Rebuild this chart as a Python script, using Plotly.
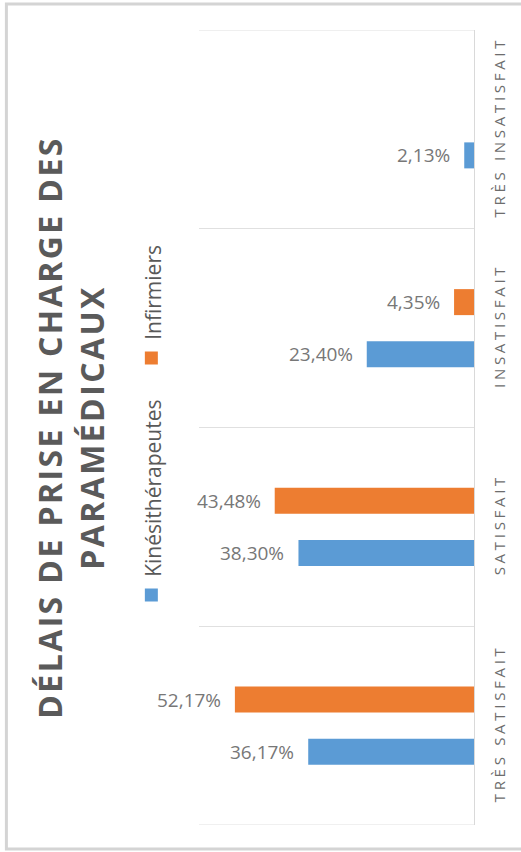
import plotly.graph_objects as go

# Satisfaction categories, bottom to top on the category axis
categories = ["TRÈS SATISFAIT", "SATISFAIT", "INSATISFAIT", "TRÈS INSATISFAIT"]
series_names = ["Kinésithérapeutes", "Infirmiers"]
kine_values = [36.17, 38.30, 23.40, 2.13]
infirmiers_values = [52.17, 43.48, 4.35, None]
series_values = [kine_values, infirmiers_values]
series_colors = ["#5B9BD5", "#ED7D31"]
title_text = "DÉLAIS DE PRISE EN CHARGE DES<br>PARAMÉDICAUX"

# Page and plot-area geometry (pixels)
W, H = 521, 852
PL, PR, PT, PB = 199, 476, 30, 825


def px_x(px):
    return (px - PL) / (PR - PL)


def px_y(py):
    return (PB - py) / (PB - PT)


def fmt_pct(v):
    return f"{v:.2f}".replace(".", ",") + "%"


fig = go.Figure()
for name, vals, col in zip(series_names, series_values, series_colors):
    fig.add_trace(go.Bar(
        y=categories, x=vals, name=name, orientation="h",
        marker=dict(color=col, line=dict(width=0)),
        showlegend=False, hoverinfo="skip",
    ))

annotations = [
    # chart title, rotated
    dict(text=title_text, textangle=-90, xref="paper", yref="paper",
         x=px_x(69), y=px_y(427), xanchor="center", yanchor="middle",
         showarrow=False,
         font=dict(family="Open Sans", size=32, color="#5a5a5a", weight="bold")),
]

# value labels beside the bar ends
bar_shift = {0: -26, 1: 26}
for si, vals in enumerate(series_values):
    for cat, v in zip(categories, vals):
        if v is None:
            continue
        annotations.append(dict(
            text=fmt_pct(v), x=v, y=cat, xref="x", yref="y",
            xanchor="right", yanchor="middle", xshift=-12, yshift=bar_shift[si],
            showarrow=False,
            font=dict(family="Open Sans", size=19, color="#777777"),
        ))

# rotated legend: swatch + label
legend_pos = [(151, 595), (151, 358)]
shapes = []
for name, col, (lx, ly) in zip(series_names, series_colors, legend_pos):
    shapes.append(dict(
        type="rect", xref="paper", yref="paper",
        xsizemode="pixel", ysizemode="pixel",
        xanchor=px_x(lx), yanchor=px_y(ly),
        x0=-6.5, x1=6.5, y0=-6.5, y1=6.5,
        fillcolor=col, line=dict(width=0),
    ))
    annotations.append(dict(
        text=name, textangle=-90, xref="paper", yref="paper",
        x=px_x(lx + 1), y=px_y(ly - 16), xanchor="center", yanchor="bottom",
        showarrow=False,
        font=dict(family="Open Sans", size=21, color="#595959"),
    ))

# category separators at the outer edges of the category axis
for edge in (-0.5, len(categories) - 0.5):
    shapes.append(dict(
        type="line", xref="paper", yref="y", x0=0, x1=1, y0=edge, y1=edge,
        line=dict(color="#e0e0e0", width=1), layer="below",
    ))

# outer chart border
shapes.append(dict(
    type="rect", xref="paper", yref="paper",
    x0=px_x(5), x1=px_x(535), y0=px_y(849), y1=px_y(4),
    line=dict(color="#d4d4d4", width=3), fillcolor="rgba(0,0,0,0)",
    layer="below",
))

fig.update_layout(
    width=W, height=H,
    margin=dict(l=PL, r=W - PR, t=PT, b=H - PB, pad=0),
    paper_bgcolor="white", plot_bgcolor="white",
    barmode="group", bargap=0.4767, bargroupgap=0.5,
    showlegend=False,
    annotations=annotations, shapes=shapes,
    xaxis=dict(range=[60, 0], visible=False, showgrid=False, zeroline=False),
    yaxis=dict(
        type="category", categoryorder="array", categoryarray=categories,
        range=[-0.5, 3.5], side="right",
        tickson="boundaries", ticks="",
        showgrid=True, gridcolor="#e0e0e0", gridwidth=1,
        showline=True, linecolor="#d9d9d9", linewidth=1,
        tickangle=-90, ticklabelstandoff=12,
        tickfont=dict(family="Open Sans", size=15, color="#6d6d6d"),
        zeroline=False,
    ),
)

spacing_js = """
var gd = document.getElementById('{plot_id}');
function applySpacing() {
  gd.querySelectorAll('.ytick text').forEach(function (t) { t.style.letterSpacing = '3.7px'; });
  var title = gd.querySelector('.annotation[data-index="0"] text');
  if (title) { title.style.letterSpacing = '2.4px'; }
}
applySpacing();
gd.on('plotly_afterplot', applySpacing);
"""

fig.write_html("out.html", post_script=spacing_js)
